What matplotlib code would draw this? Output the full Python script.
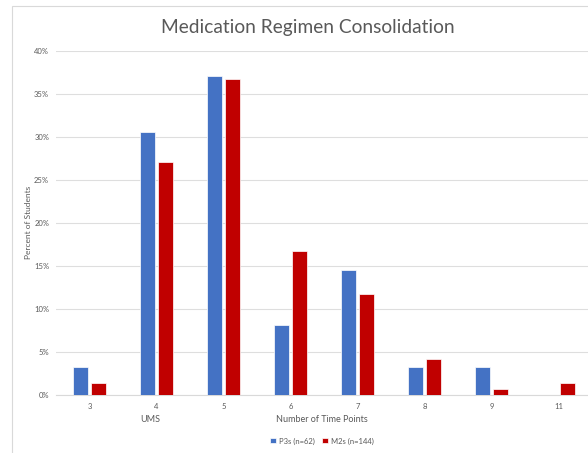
import matplotlib
matplotlib.use("Agg")
import matplotlib.pyplot as plt
import numpy as np
from matplotlib.patches import Rectangle
from matplotlib.ticker import PercentFormatter

plt.rcParams["font.family"] = ["Lato", "DejaVu Sans"]

# Share of students by number of time points
categories = ["3", "4", "5", "6", "7", "8", "9", "11"]
p3s_pct = [3.2, 30.6, 37.1, 8.1, 14.5, 3.2, 3.2, 0.0]
m2s_pct = [1.4, 27.1, 36.8, 16.7, 11.8, 4.2, 0.7, 1.4]
series_names = ["P3s (n=62)", "M2s (n=144)"]

BLUE = "#4472C4"
RED = "#C00000"
GRAY = "#595959"

fig = plt.figure(figsize=(5.88, 4.53), dpi=100)
W, H = 588, 453

# light outer frame of the chart area
fig.patches.append(Rectangle((12 / W, -0.1), 1.1, (H - 6) / H + 0.1,
                             transform=fig.transFigure, fill=False,
                             edgecolor="#d9d9d9", linewidth=0.8))

ax = fig.add_axes([56 / W, (H - 395) / H, 536 / W, 344 / H])
x = np.arange(len(categories))
width = 0.225
ax.bar(x - 0.14, np.array(p3s_pct) / 100, width, color=BLUE,
       edgecolor="white", linewidth=0.5, label=series_names[0], zorder=3)
ax.bar(x + 0.14, np.array(m2s_pct) / 100, width, color=RED,
       edgecolor="white", linewidth=0.5, label=series_names[1], zorder=3)

ax.set_xlim(-0.5, len(categories) - 0.5)
ax.set_ylim(0, 0.40)
ax.set_yticks(np.arange(0, 0.41, 0.05))
ax.yaxis.set_major_formatter(PercentFormatter(1.0, decimals=0))
ax.set_xticks(x)
ax.set_xticklabels(categories)
ax.tick_params(axis="both", length=0, labelsize=5.5, colors=GRAY)
ax.tick_params(axis="y", pad=5)
ax.tick_params(axis="x", pad=6)
ax.grid(axis="y", color="#dedede", linewidth=0.8, zorder=0)
for side in ["top", "right", "left"]:
    ax.spines[side].set_visible(False)
ax.spines["bottom"].set_color("#d9d9d9")
ax.spines["bottom"].set_linewidth(0.8)

fig.text(29 / W, 1 - 222 / H, "Percent of Students", fontsize=6,
         color=GRAY, rotation=90, ha="center", va="center")
fig.text(322 / W, 1 - 420 / H, "Number of Time Points", fontsize=6.5,
         color=GRAY, ha="center", va="center")
fig.text(150 / W, 1 - 419 / H, "UMS", fontsize=6.5, color=GRAY,
         ha="center", va="center")

fig.text(308 / W, 1 - 28 / H, "Medication Regimen Consolidation",
         fontsize=13.8, color=GRAY, ha="center", va="center")

fig.legend(loc="center", bbox_to_anchor=(322 / W, 1 - 441 / H), ncol=2,
           frameon=False, fontsize=5.5, handlelength=0.7, handleheight=0.7,
           handletextpad=0.4, columnspacing=1.0, labelcolor=GRAY)

fig.savefig("out.png", dpi=100)
